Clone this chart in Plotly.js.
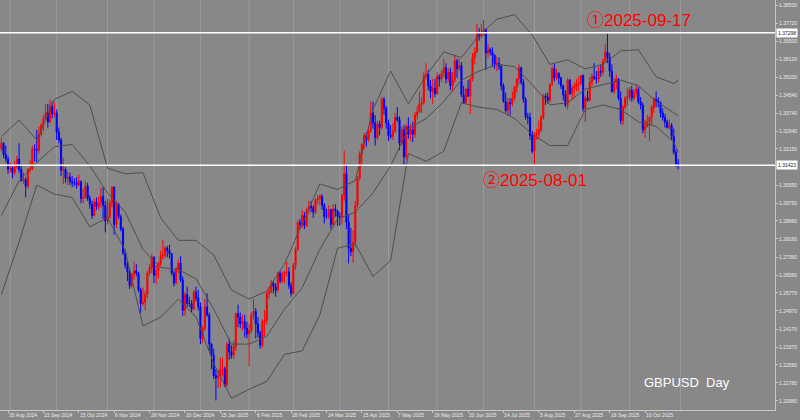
<!DOCTYPE html>
<html>
<head>
<meta charset="utf-8">
<script src="https://cdn.plot.ly/plotly-3.0.1.min.js"></script>
<style>
  html, body { margin: 0; padding: 0; background: #888888; }
  #chart { width: 800px; height: 420px; }
</style>
</head>
<body>
<div id="chart"></div>
<script>
// ---- Daily GBPUSD candles (first bar = 27 Aug 2024, last = 31 Oct 2025) ----
const openP = [
1.3215,1.3240,1.3190,1.3170,1.3125,1.3130,1.3110,1.3135,1.3170,1.3125,
1.3075,1.3080,1.3050,1.3125,1.3125,1.3215,1.3210,1.3210,1.3280,1.3320,
1.3350,1.3375,1.3335,1.3405,1.3370,1.3375,1.3290,1.3255,1.3120,1.3125,
1.3085,1.3090,1.3070,1.3065,1.3065,1.3055,1.3070,1.2995,1.3000,1.3050,
1.2995,1.2970,1.2920,1.2980,1.2960,1.2975,1.3005,1.2965,1.2895,1.2915,
1.2975,1.3045,1.2880,1.2970,1.2915,1.2860,1.2755,1.2700,1.2670,1.2610,
1.2660,1.2675,1.2665,1.2590,1.2530,1.2535,1.2570,1.2665,1.2690,1.2735,
1.2655,1.2675,1.2705,1.2740,1.2745,1.2775,1.2765,1.2750,1.2665,1.2620,
1.2685,1.2710,1.2635,1.2500,1.2570,1.2530,1.2530,1.2505,1.2580,1.2555,
1.2515,1.2375,1.2420,1.2515,1.2480,1.2350,1.2300,1.2210,1.2200,1.2210,
1.2240,1.2240,1.2170,1.2350,1.2315,1.2300,1.2340,1.2485,1.2470,1.2440,
1.2450,1.2420,1.2395,1.2410,1.2480,1.2495,1.2440,1.2400,1.2345,1.2450,
1.2455,1.2575,1.2585,1.2620,1.2605,1.2590,1.2665,1.2630,1.2660,1.2670,
1.2670,1.2610,1.2575,1.2700,1.2770,1.2890,1.2880,1.2920,1.2875,1.2945,
1.2960,1.2955,1.2935,1.2990,1.2995,1.3005,1.2965,1.2915,1.2915,1.2945,
1.2880,1.2950,1.2940,1.2915,1.2915,1.3010,1.3105,1.2890,1.2775,1.2760,
1.2800,1.2965,1.3085,1.3195,1.3235,1.3275,1.3255,1.3295,1.3375,1.3330,
1.3265,1.3325,1.3310,1.3435,1.3395,1.3330,1.3275,1.3270,1.3295,1.3355,
1.3345,1.3240,1.3300,1.3180,1.3315,1.3280,1.3300,1.3280,1.3365,1.3380,
1.3415,1.3420,1.3540,1.3545,1.3495,1.3470,1.3485,1.3460,1.3535,1.3525,
1.3550,1.3575,1.3525,1.3555,1.3495,1.3520,1.3605,1.3570,1.3585,1.3455,
1.3420,1.3480,1.3450,1.3525,1.3620,1.3645,1.3730,1.3715,1.3730,1.3745,
1.3640,1.3655,1.3645,1.3630,1.3590,1.3595,1.3580,1.3495,1.3425,1.3385,
1.3420,1.3415,1.3440,1.3490,1.3525,1.3575,1.3510,1.3435,1.3355,1.3355,
1.3275,1.3205,1.3280,1.3280,1.3300,1.3355,1.3450,1.3445,1.3430,1.3500,
1.3570,1.3530,1.3550,1.3530,1.3495,1.3455,1.3410,1.3520,1.3460,1.3485,
1.3490,1.3505,1.3505,1.3540,1.3395,1.3440,1.3430,1.3510,1.3535,1.3530,
1.3525,1.3560,1.3555,1.3605,1.3645,1.3620,1.3560,1.3470,1.3510,1.3525,
1.3440,1.3340,1.3400,1.3440,1.3445,1.3475,1.3440,1.3465,1.3480,1.3425,
1.3410,1.3300,1.3315,1.3335,1.3355,1.3400,1.3435,1.3430,1.3420,1.3375,
1.3355,1.3335,1.3310,1.3320,1.3270,1.3200,1.3150
];
const highP = [
1.3266,1.3245,1.3230,1.3185,1.3155,1.3140,1.3160,1.3185,1.3240,1.3140,
1.3110,1.3090,1.3130,1.3165,1.3230,1.3235,1.3300,1.3315,1.3330,1.3365,
1.3415,1.3415,1.3434,1.3425,1.3420,1.3390,1.3310,1.3265,1.3175,1.3135,
1.3115,1.3110,1.3095,1.3085,1.3090,1.3100,1.3075,1.3040,1.3070,1.3065,
1.3010,1.2985,1.2995,1.3000,1.3005,1.3045,1.3045,1.2985,1.2995,1.2990,
1.3050,1.3050,1.2985,1.2975,1.2925,1.2870,1.2770,1.2715,1.2680,1.2665,
1.2715,1.2705,1.2670,1.2600,1.2600,1.2585,1.2675,1.2705,1.2750,1.2740,
1.2700,1.2715,1.2765,1.2811,1.2785,1.2785,1.2790,1.2755,1.2675,1.2690,
1.2725,1.2740,1.2650,1.2580,1.2605,1.2560,1.2545,1.2590,1.2605,1.2590,
1.2535,1.2430,1.2550,1.2575,1.2490,1.2355,1.2330,1.2240,1.2235,1.2290,
1.2290,1.2250,1.2360,1.2375,1.2345,1.2365,1.2490,1.2525,1.2490,1.2480,
1.2480,1.2450,1.2440,1.2490,1.2550,1.2510,1.2470,1.2410,1.2460,1.2500,
1.2580,1.2605,1.2635,1.2630,1.2620,1.2670,1.2675,1.2670,1.2675,1.2715,
1.2690,1.2625,1.2710,1.2780,1.2900,1.2905,1.2945,1.2935,1.2955,1.2985,
1.2985,1.2965,1.2995,1.3010,1.3015,1.3015,1.2975,1.2950,1.2965,1.2950,
1.2970,1.2970,1.2945,1.2935,1.3015,1.3207,1.3145,1.2925,1.2865,1.2855,
1.2985,1.3095,1.3205,1.3240,1.3285,1.3290,1.3305,1.3425,1.3425,1.3365,
1.3340,1.3340,1.3445,1.3445,1.3405,1.3345,1.3320,1.3330,1.3375,1.3400,
1.3360,1.3315,1.3320,1.3325,1.3355,1.3325,1.3335,1.3380,1.3405,1.3470,
1.3445,1.3555,1.3595,1.3565,1.3520,1.3525,1.3525,1.3555,1.3545,1.3565,
1.3615,1.3595,1.3575,1.3575,1.3555,1.3632,1.3615,1.3615,1.3600,1.3495,
1.3485,1.3520,1.3530,1.3640,1.3665,1.3770,1.3750,1.3770,1.3788,1.3750,
1.3680,1.3665,1.3665,1.3635,1.3625,1.3620,1.3590,1.3505,1.3465,1.3440,
1.3440,1.3470,1.3495,1.3530,1.3590,1.3580,1.3525,1.3445,1.3375,1.3375,
1.3295,1.3290,1.3305,1.3340,1.3365,1.3460,1.3460,1.3465,1.3505,1.3580,
1.3595,1.3570,1.3555,1.3535,1.3500,1.3475,1.3530,1.3525,1.3500,1.3510,
1.3525,1.3535,1.3545,1.3545,1.3450,1.3475,1.3535,1.3550,1.3595,1.3560,
1.3580,1.3590,1.3615,1.3680,1.3726,1.3640,1.3590,1.3530,1.3545,1.3530,
1.3470,1.3410,1.3450,1.3485,1.3490,1.3495,1.3480,1.3500,1.3490,1.3445,
1.3420,1.3345,1.3365,1.3360,1.3410,1.3445,1.3470,1.3445,1.3425,1.3395,
1.3370,1.3345,1.3345,1.3330,1.3305,1.3215,1.3170
];
const lowP = [
1.3205,1.3175,1.3155,1.3105,1.3110,1.3085,1.3100,1.3125,1.3110,1.3070,
1.3060,1.3000,1.3040,1.3110,1.3120,1.3160,1.3155,1.3195,1.3270,1.3295,
1.3345,1.3310,1.3330,1.3350,1.3355,1.3255,1.3240,1.3095,1.3060,1.3065,
1.3055,1.3055,1.3045,1.3050,1.3040,1.3050,1.2975,1.2975,1.2995,1.2985,
1.2950,1.2905,1.2915,1.2945,1.2945,1.2955,1.2905,1.2845,1.2880,1.2905,
1.2955,1.2835,1.2865,1.2905,1.2850,1.2745,1.2685,1.2630,1.2595,1.2600,
1.2635,1.2650,1.2580,1.2487,1.2520,1.2500,1.2555,1.2655,1.2665,1.2620,
1.2615,1.2640,1.2695,1.2725,1.2730,1.2735,1.2730,1.2655,1.2605,1.2615,
1.2665,1.2625,1.2475,1.2475,1.2515,1.2515,1.2490,1.2500,1.2540,1.2500,
1.2350,1.2355,1.2410,1.2470,1.2320,1.2240,1.2195,1.2100,1.2155,1.2160,
1.2205,1.2160,1.2160,1.2280,1.2285,1.2285,1.2320,1.2425,1.2420,1.2410,
1.2380,1.2375,1.2250,1.2400,1.2460,1.2375,1.2380,1.2330,1.2335,1.2385,
1.2435,1.2550,1.2575,1.2575,1.2560,1.2580,1.2620,1.2620,1.2620,1.2650,
1.2595,1.2560,1.2570,1.2680,1.2765,1.2860,1.2865,1.2860,1.2870,1.2925,
1.2935,1.2910,1.2925,1.2970,1.2965,1.2945,1.2885,1.2905,1.2905,1.2860,
1.2870,1.2915,1.2875,1.2875,1.2880,1.2985,1.2860,1.2708,1.2740,1.2710,
1.2780,1.2955,1.3075,1.3145,1.3215,1.3225,1.3245,1.3285,1.3305,1.3230,
1.3255,1.3275,1.3300,1.3365,1.3305,1.3250,1.3260,1.3255,1.3285,1.3335,
1.3210,1.3230,1.3140,1.3170,1.3260,1.3250,1.3245,1.3265,1.3345,1.3375,
1.3375,1.3410,1.3525,1.3475,1.3440,1.3415,1.3445,1.3455,1.3490,1.3510,
1.3535,1.3505,1.3510,1.3475,1.3470,1.3510,1.3530,1.3560,1.3445,1.3415,
1.3410,1.3445,1.3370,1.3515,1.3590,1.3640,1.3695,1.3705,1.3715,1.3565,
1.3620,1.3630,1.3580,1.3570,1.3560,1.3565,1.3475,1.3420,1.3375,1.3365,
1.3365,1.3405,1.3430,1.3465,1.3500,1.3500,1.3420,1.3345,1.3325,1.3255,
1.3195,1.3141,1.3255,1.3260,1.3290,1.3345,1.3410,1.3415,1.3420,1.3495,
1.3515,1.3520,1.3500,1.3480,1.3430,1.3400,1.3390,1.3455,1.3430,1.3440,
1.3470,1.3470,1.3495,1.3380,1.3335,1.3425,1.3425,1.3495,1.3520,1.3505,
1.3510,1.3535,1.3540,1.3600,1.3595,1.3535,1.3465,1.3460,1.3480,1.3430,
1.3325,1.3320,1.3390,1.3405,1.3430,1.3425,1.3430,1.3445,1.3415,1.3390,
1.3285,1.3265,1.3310,1.3250,1.3320,1.3375,1.3400,1.3400,1.3355,1.3340,
1.3310,1.3305,1.3300,1.3255,1.3190,1.3135,1.3125
];
const closeP = [
1.3240,1.3190,1.3170,1.3125,1.3130,1.3110,1.3135,1.3170,1.3125,1.3075,
1.3080,1.3050,1.3125,1.3125,1.3215,1.3210,1.3210,1.3280,1.3320,1.3350,
1.3375,1.3335,1.3405,1.3370,1.3375,1.3290,1.3255,1.3120,1.3125,1.3085,
1.3090,1.3070,1.3065,1.3065,1.3055,1.3070,1.2995,1.3000,1.3050,1.2995,
1.2970,1.2920,1.2980,1.2960,1.2975,1.3005,1.2965,1.2895,1.2915,1.2975,
1.3045,1.2880,1.2970,1.2915,1.2860,1.2755,1.2700,1.2670,1.2610,1.2660,
1.2675,1.2665,1.2590,1.2530,1.2535,1.2570,1.2665,1.2690,1.2735,1.2655,
1.2675,1.2705,1.2740,1.2745,1.2775,1.2765,1.2750,1.2665,1.2620,1.2685,
1.2710,1.2635,1.2500,1.2570,1.2530,1.2530,1.2505,1.2580,1.2555,1.2515,
1.2375,1.2420,1.2515,1.2480,1.2350,1.2300,1.2210,1.2200,1.2210,1.2240,
1.2240,1.2170,1.2350,1.2315,1.2300,1.2340,1.2485,1.2470,1.2440,1.2450,
1.2420,1.2395,1.2410,1.2480,1.2495,1.2440,1.2400,1.2345,1.2450,1.2455,
1.2575,1.2585,1.2620,1.2605,1.2590,1.2665,1.2630,1.2660,1.2670,1.2670,
1.2610,1.2575,1.2700,1.2770,1.2890,1.2880,1.2920,1.2875,1.2945,1.2960,
1.2955,1.2935,1.2990,1.2995,1.3005,1.2965,1.2915,1.2915,1.2945,1.2880,
1.2950,1.2940,1.2915,1.2915,1.3010,1.3105,1.2890,1.2775,1.2760,1.2800,
1.2965,1.3085,1.3195,1.3235,1.3275,1.3255,1.3295,1.3375,1.3330,1.3265,
1.3325,1.3310,1.3435,1.3395,1.3330,1.3275,1.3270,1.3295,1.3355,1.3345,
1.3240,1.3300,1.3180,1.3315,1.3280,1.3300,1.3280,1.3365,1.3380,1.3415,
1.3420,1.3540,1.3545,1.3495,1.3470,1.3485,1.3460,1.3535,1.3525,1.3550,
1.3575,1.3525,1.3555,1.3495,1.3520,1.3605,1.3570,1.3585,1.3455,1.3420,
1.3480,1.3450,1.3525,1.3620,1.3645,1.3730,1.3715,1.3730,1.3745,1.3640,
1.3655,1.3645,1.3630,1.3590,1.3595,1.3580,1.3495,1.3425,1.3385,1.3420,
1.3415,1.3440,1.3490,1.3525,1.3575,1.3510,1.3435,1.3355,1.3355,1.3275,
1.3205,1.3280,1.3280,1.3300,1.3355,1.3450,1.3445,1.3430,1.3500,1.3570,
1.3530,1.3550,1.3530,1.3495,1.3455,1.3410,1.3520,1.3460,1.3485,1.3490,
1.3505,1.3505,1.3540,1.3395,1.3440,1.3430,1.3510,1.3535,1.3530,1.3525,
1.3560,1.3555,1.3605,1.3645,1.3620,1.3560,1.3470,1.3510,1.3525,1.3440,
1.3340,1.3400,1.3440,1.3445,1.3475,1.3440,1.3465,1.3480,1.3425,1.3410,
1.3300,1.3315,1.3335,1.3355,1.3400,1.3435,1.3430,1.3420,1.3375,1.3355,
1.3335,1.3310,1.3320,1.3270,1.3200,1.3150,1.3145
];

// ---- Bollinger band readings (bar index, value) ----
const bbIdx   = [0,8,16,24,32,40,48,56,64,72,80,88,96,104,112,120,128,136,144,152,160,168,176,184,192,200,208,216,224,232,240,248,256,264,272,280,288,296,304,306];
const bbUpper = [1.3270,1.3343,1.3255,1.3435,1.3470,1.3410,1.3130,1.3105,1.3110,1.2910,1.2810,1.2810,1.2745,1.2590,1.2550,1.2585,1.2705,1.2880,1.3060,1.3035,1.3075,1.3390,1.3560,1.3415,1.3540,1.3645,1.3620,1.3720,1.3790,1.3810,1.3720,1.3590,1.3610,1.3570,1.3590,1.3650,1.3655,1.3535,1.3505,1.3520];
const bbMiddle= [1.2920,1.3073,1.3155,1.3225,1.3235,1.3140,1.3020,1.2935,1.2770,1.2690,1.2680,1.2640,1.2505,1.2350,1.2350,1.2385,1.2505,1.2600,1.2770,1.2905,1.2935,1.3020,1.3140,1.3305,1.3350,1.3425,1.3520,1.3560,1.3590,1.3580,1.3500,1.3410,1.3420,1.3480,1.3500,1.3520,1.3495,1.3425,1.3375,1.3360];
const bbLower = [1.2570,1.2803,1.3055,1.3015,1.3000,1.2870,1.2910,1.2765,1.2430,1.2470,1.2550,1.2470,1.2265,1.2110,1.2150,1.2185,1.2305,1.2320,1.2480,1.2775,1.2795,1.2650,1.2720,1.3195,1.3160,1.3205,1.3420,1.3400,1.3390,1.3350,1.3280,1.3230,1.3230,1.3390,1.3410,1.3390,1.3335,1.3315,1.3245,1.3200];

// ---- Axis labels ----
const dateLabelIdx = [3,19,35,51,67,83,99,115,131,147,163,179,195,211,227,243,259,275,291];
const dateLabels = ['30 Aug 2024','23 Sep 2024','15 Oct 2024','6 Nov 2024','28 Nov 2024','20 Dec 2024','15 Jan 2025','6 Feb 2025','28 Feb 2025','24 Mar 2025','15 Apr 2025','7 May 2025','29 May 2025','20 Jun 2025','14 Jul 2025','5 Aug 2025','27 Aug 2025','18 Sep 2025','10 Oct 2025'];
const priceTicks = [1.38530,1.37720,1.36930,1.36120,1.35330,1.34540,1.33740,1.32940,1.32150,1.30550,1.29750,1.28960,1.28160,1.27360,1.26560,1.25770,1.24970,1.24170,1.23370,1.22580,1.21780,1.20980];
const monthStartIdx = [4,25,48,69,90,112,132,153,175,197,218,241,262,284,307];

// ---- Marked levels ----
const levelPrices = [1.37298, 1.31423];
const levelLabels = ['1.37298', '1.31423'];
const noteTexts = ['\u24602025-09-17', '\u24612025-08-01'];
const symbolText = 'GBPUSD\u00a0 Day';

// ---- Build ----
const BG = '#888888';
const LABEL = '#ececec';
const barIdx = closeP.map((_, i) => i);

const traces = [
  {type: 'scatter', mode: 'lines', x: bbIdx, y: bbUpper, line: {color: '#4e4e4e', width: 1}, hoverinfo: 'skip', showlegend: false},
  {type: 'scatter', mode: 'lines', x: bbIdx, y: bbMiddle, line: {color: '#4e4e4e', width: 1}, hoverinfo: 'skip', showlegend: false},
  {type: 'scatter', mode: 'lines', x: bbIdx, y: bbLower, line: {color: '#4e4e4e', width: 1}, hoverinfo: 'skip', showlegend: false},
  {
    type: 'candlestick', x: barIdx, open: openP, high: highP, low: lowP, close: closeP,
    increasing: {line: {color: '#ff0000', width: 1}, fillcolor: '#ff0000'},
    decreasing: {line: {color: '#0000ff', width: 1}, fillcolor: '#0000ff'},
    whiskerwidth: 0, hoverinfo: 'skip', showlegend: false
  }
];

const shapes = [];
monthStartIdx.forEach(ix => shapes.push({
  type: 'line', xref: 'x', yref: 'paper', x0: ix, x1: ix, y0: 0, y1: 1,
  line: {color: '#9c9c9c', width: 1}, layer: 'below'
}));
levelPrices.forEach(p => shapes.push({
  type: 'line', xref: 'paper', yref: 'y', x0: 0, x1: 1, y0: p, y1: p,
  line: {color: '#ffffff', width: 1.5}
}));

const annotations = [];
dateLabelIdx.forEach((ix, k) => annotations.push({
  x: ix, xref: 'x', y: 0, yref: 'paper', yanchor: 'top', xanchor: 'left',
  text: dateLabels[k], showarrow: false, yshift: 0, xshift: -1,
  font: {family: 'Liberation Sans, Arial, sans-serif', size: 5, color: LABEL}
}));
levelPrices.forEach((p, k) => annotations.push({
  x: 1, xref: 'paper', y: p, yref: 'y', xanchor: 'left', yanchor: 'middle',
  text: levelLabels[k], showarrow: false, bgcolor: '#ffffff', borderpad: 1, xshift: 1,
  font: {family: 'Liberation Sans, Arial, sans-serif', size: 5, color: '#202020'}
}));
annotations.push({
  x: 585 / 775, xref: 'paper', y: 1 - 20 / 410, yref: 'paper', xanchor: 'left', yanchor: 'middle',
  text: noteTexts[0], showarrow: false,
  font: {family: 'Liberation Sans, Noto Sans CJK JP, sans-serif', size: 17, color: '#ff0000'}
});
annotations.push({
  x: 481 / 775, xref: 'paper', y: 1 - 181 / 410, yref: 'paper', xanchor: 'left', yanchor: 'middle',
  text: noteTexts[1], showarrow: false,
  font: {family: 'Liberation Sans, Noto Sans CJK JP, sans-serif', size: 17, color: '#ff0000'}
});
annotations.push({
  x: 642 / 775, xref: 'paper', y: 1 - 382 / 410, yref: 'paper', xanchor: 'left', yanchor: 'middle',
  text: symbolText, showarrow: false,
  font: {family: 'Liberation Sans, Arial, sans-serif', size: 13, color: '#ffffff'}
});

const layout = {
  width: 800, height: 420,
  margin: {l: 0, r: 25, t: 0, b: 10, pad: 0},
  paper_bgcolor: BG, plot_bgcolor: BG,
  showlegend: false,
  xaxis: {
    range: [-0.62, 349.75], rangeslider: {visible: false},
    showgrid: false, zeroline: false, showticklabels: false,
    showline: true, linecolor: '#c8c8c8', linewidth: 1,
    tickvals: dateLabelIdx, ticks: 'outside', ticklen: 2, tickcolor: '#c8c8c8'
  },
  yaxis: {
    range: [1.20580, 1.38752], side: 'right',
    showgrid: false, zeroline: false,
    showline: true, linecolor: '#c8c8c8', linewidth: 1,
    tickvals: priceTicks, ticktext: priceTicks.map(v => v.toFixed(5)),
    ticks: 'outside', ticklen: 2, tickcolor: '#c8c8c8',
    tickfont: {family: 'Liberation Sans, Arial, sans-serif', size: 5, color: LABEL}
  },
  shapes: shapes,
  annotations: annotations
};

Plotly.newPlot('chart', traces, layout, {staticPlot: true, displayModeBar: false});
</script>
</body>
</html>
